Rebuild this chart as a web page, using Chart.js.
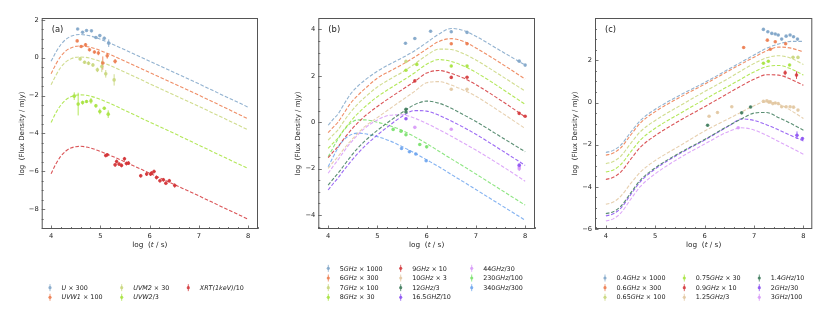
<!DOCTYPE html>
<html>
<head>
<meta charset="utf-8">
<script src="https://cdn.jsdelivr.net/npm/chart.js@4.4.0/dist/chart.umd.min.js"></script>
<style>
html, body { margin: 0; padding: 0; background: #fff; }
#wrap { position: relative; width: 831px; height: 322px; }
.panel { position: absolute; top: 0; width: 277px; height: 322px; }
</style>
</head>
<body>
<div id="wrap">
  <div class="panel" style="left:0px"><canvas id="pa"></canvas></div>
  <div class="panel" style="left:277px"><canvas id="pb"></canvas></div>
  <div class="panel" style="left:554px"><canvas id="pc"></canvas></div>
</div>
<script>
// ---- tick labels
const ticksX = [4, 5, 6, 7, 8];
const ticksYa = [-8, -6, -4, -2, 0, 2];
const ticksYb = [-4, -2, 0, 2, 4];
const ticksYc = [-6, -4, -2, 0, 2];

// ---- panel (a): UV / X-ray
const gridA = [4, 4.1, 4.2, 4.3, 4.4, 4.5, 4.6, 4.7, 4.8, 5, 5.5, 6, 6.5, 7, 7.5, 8];
const labelsA = ['{U} × 300', '{UVW1} × 100', '{UVM2} × 30', '{UVW2}/3', '{XRT(1keV)}/10'];
const modelU    = [-0.19, 0.3, 0.7, 0.97, 1.13, 1.21, 1.23, 1.2, 1.15, 0.98, 0.42, -0.18, -0.78, -1.38, -2.0, -2.61];
const modelUVW1 = [-0.85, -0.33, 0.08, 0.36, 0.52, 0.6, 0.62, 0.6, 0.55, 0.38, -0.18, -0.78, -1.38, -1.98, -2.6, -3.23];
const modelUVM2 = [-1.43, -0.92, -0.5, -0.22, -0.06, 0.02, 0.04, 0.02, -0.03, -0.2, -0.77, -1.37, -1.97, -2.57, -3.19, -3.81];
const modelUVW2 = [-3.42, -2.9, -2.5, -2.22, -2.06, -1.98, -1.96, -1.98, -2.03, -2.2, -2.78, -3.4, -4.0, -4.62, -5.24, -5.85];
const modelXRT  = [-6.13, -5.6, -5.2, -4.93, -4.77, -4.7, -4.68, -4.71, -4.77, -4.95, -5.5, -6.1, -6.7, -7.3, -7.92, -8.53];

const uT = [4.54, 4.64, 4.72, 4.82, 4.91, 4.99, 5.08, 5.17];
const uF = [1.52, 1.35, 1.44, 1.42, 1.07, 1.17, 1.03, 0.77];
const uE = [0.05, 0.05, 0.05, 0.05, 0.06, 0.06, 0.08, 0.2];
const uvw1T = [4.53, 4.61, 4.70, 4.78, 4.88, 4.96, 5.05, 5.14, 5.30];
const uvw1F = [0.89, 0.59, 0.68, 0.42, 0.30, 0.25, -0.28, 0.10, -0.19];
const uvw1E = [0.06, 0.06, 0.1, 0.08, 0.08, 0.12, 0.35, 0.15, 0.12];
const uvm2T = [4.59, 4.68, 4.76, 4.85, 4.94, 5.03, 5.11, 5.28];
const uvm2F = [-0.06, -0.24, -0.29, -0.38, -0.64, -0.46, -0.85, -1.17];
const uvm2E = [0.08, 0.08, 0.1, 0.1, 0.12, 0.3, 0.2, 0.3];
const uvw2T = [4.47, 4.55, 4.64, 4.72, 4.81, 4.91, 4.99, 5.08, 5.16];
const uvw2F = [-2.03, -2.45, -2.37, -2.31, -2.28, -2.54, -2.84, -2.67, -2.98];
const uvw2E = [0.2, 0.6, 0.1, 0.08, 0.15, 0.1, 0.15, 0.08, 0.2];
const xrtT = [5.11, 5.14, 5.30, 5.33, 5.38, 5.43, 5.49, 5.53, 5.57, 5.82, 5.94, 6.02, 6.04, 6.09, 6.14, 6.21, 6.28, 6.33, 6.40, 6.51];
const xrtF = [-5.17, -5.13, -5.66, -5.48, -5.62, -5.69, -5.34, -5.59, -5.57, -6.24, -6.15, -6.15, -6.10, -6.01, -6.33, -6.50, -6.45, -6.63, -6.50, -6.75];
const xrtE = [0.08, 0.08, 0.1, 0.1, 0.1, 0.1, 0.1, 0.1, 0.1, 0.1, 0.1, 0.1, 0.1, 0.1, 0.1, 0.1, 0.1, 0.1, 0.1, 0.12];

// ---- panel (b): GHz / mm bands
const gridB = [4, 4.1, 4.2, 4.3, 4.45, 4.6, 4.75, 5, 5.25, 5.5, 5.75, 6, 6.25, 6.5, 6.75, 7, 7.5, 8];
const labelsB = ['5{GHz} × 1000', '6{GHz} × 300', '7{GHz} × 100', '8{GHz} × 30', '9{GHz} × 10', '10{GHz} × 3',
                 '12{GHz}/3', '16.5{GHZ}/10', '44{GHz}/30', '230{GHz}/100', '340{GHz}/300'];
const model5   = [-0.13, 0.12, 0.35, 0.7, 1.2, 1.55, 1.82, 2.2, 2.5, 2.77, 3.07, 3.43, 3.8, 4.04, 3.95, 3.7, 3.08, 2.46];
const model6   = [-0.45, -0.22, 0.0, 0.32, 0.8, 1.15, 1.45, 1.9, 2.2, 2.48, 2.8, 3.15, 3.48, 3.6, 3.48, 3.2, 2.55, 1.86];
const model7   = [-0.77, -0.55, -0.33, -0.02, 0.42, 0.78, 1.08, 1.52, 1.85, 2.15, 2.5, 2.88, 3.15, 3.13, 2.95, 2.68, 2.02, 1.34];
const model8   = [-1.13, -0.9, -0.68, -0.38, 0.02, 0.37, 0.67, 1.1, 1.45, 1.78, 2.12, 2.5, 2.7, 2.62, 2.42, 2.15, 1.48, 0.77];
const model9   = [-1.53, -1.28, -1.05, -0.77, -0.37, -0.03, 0.27, 0.68, 1.05, 1.4, 1.75, 2.12, 2.23, 2.1, 1.9, 1.62, 0.95, 0.23];
const model10  = [-1.99, -1.72, -1.48, -1.2, -0.82, -0.48, -0.18, 0.2, 0.58, 0.95, 1.32, 1.7, 1.75, 1.6, 1.38, 1.12, 0.44, -0.27];
const model12  = [-2.71, -2.45, -2.2, -1.92, -1.5, -1.12, -0.8, -0.35, 0.05, 0.42, 0.75, 0.91, 0.82, 0.6, 0.32, 0.03, -0.62, -1.27];
const model165 = [-2.92, -2.65, -2.4, -2.12, -1.72, -1.35, -1.02, -0.55, -0.13, 0.25, 0.5, 0.48, 0.3, 0.05, -0.22, -0.52, -1.18, -1.86];
const model44  = [-2.2, -1.9, -1.62, -1.32, -0.9, -0.55, -0.25, 0.1, 0.3, 0.32, 0.18, -0.05, -0.32, -0.6, -0.9, -1.2, -1.85, -2.54];
const model230 = [-1.49, -1.1, -0.72, -0.4, -0.05, 0.1, 0.1, 0.0, -0.15, -0.35, -0.62, -0.92, -1.25, -1.58, -1.9, -2.23, -2.9, -3.57];
const model340 = [-1.92, -1.5, -1.1, -0.8, -0.55, -0.47, -0.5, -0.62, -0.8, -1.05, -1.32, -1.62, -1.92, -2.25, -2.57, -2.9, -3.56, -4.22];

const g5T = [5.57, 5.76, 6.08, 6.50, 6.82, 7.88, 8.0],  g5F = [3.40, 3.61, 3.92, 3.90, 3.87, 2.63, 2.46];
const g6T = [6.50, 6.82],                               g6F = [3.38, 3.38];
const g7T = [5.58],                                     g7F = [2.62];
const g8T = [5.58, 5.80, 6.50, 6.82],                   g8F = [2.24, 2.49, 2.42, 2.42];
const g9T = [5.76, 6.50, 6.82, 7.88, 8.0],              g9F = [1.78, 1.93, 1.94, 0.38, 0.26];
const g10T = [6.50, 6.82],                              g10F = [1.42, 1.42];
const g12T = [5.58, 5.58],                              g12F = [0.56, 0.44];
const g165T = [5.58, 7.88],                             g165F = [0.15, -1.85];
const g44T = [5.76, 6.50, 7.88, 7.88],                  g44F = [-0.22, -0.30, -1.93, -2.0];
const g44E = [0.05, 0.05, 0.12, 0.1];
const g230T = [5.32, 5.48, 5.58, 5.86, 6.0],            g230F = [-0.31, -0.39, -0.54, -0.96, -1.06];
const g340T = [5.49, 5.65, 5.78, 5.99],                 g340F = [-1.13, -1.27, -1.37, -1.66];

// ---- panel (c): sub-GHz / GHz bands
const gridC = [4, 4.15, 4.3, 4.5, 4.7, 5, 5.5, 6, 6.5, 6.75, 7, 7.25, 7.5, 7.75, 8];
const labelsC = ['0.4{GHz} × 1000', '0.6{GHz} × 300', '0.65{GHz} × 100', '0.75{GHz} × 30', '0.9{GHz} × 10',
                 '1.25{GHz}/3', '1.4{GHz}/10', '2{GHz}/30', '3{GHz}/100'];
const model04  = [-2.37, -2.27, -2.02, -1.42, -0.85, -0.32, 0.35, 0.95, 1.6, 1.93, 2.25, 2.57, 2.78, 2.9, 2.9];
const model06  = [-2.5, -2.4, -2.15, -1.55, -0.97, -0.43, 0.25, 0.87, 1.52, 1.84, 2.15, 2.45, 2.63, 2.58, 2.4];
const model065 = [-2.9, -2.8, -2.55, -1.95, -1.38, -0.85, -0.15, 0.52, 1.17, 1.52, 1.85, 2.12, 2.22, 2.1, 1.8];
const model075 = [-3.3, -3.2, -2.95, -2.35, -1.78, -1.22, -0.52, 0.15, 0.8, 1.13, 1.45, 1.7, 1.76, 1.6, 1.3];
const model09  = [-3.65, -3.55, -3.3, -2.7, -2.12, -1.57, -0.85, -0.2, 0.47, 0.8, 1.1, 1.32, 1.3, 1.1, 0.82];
const model125 = [-4.83, -4.72, -4.45, -3.85, -3.3, -2.75, -2.05, -1.35, -0.75, -0.45, -0.15, 0.03, -0.08, -0.38, -0.76];
const model14  = [-5.27, -5.18, -4.93, -4.3, -3.68, -3.1, -2.38, -1.75, -1.08, -0.77, -0.5, -0.47, -0.72, -1.0, -1.31];
const model2   = [-5.38, -5.28, -5.02, -4.38, -3.75, -3.15, -2.42, -1.78, -1.1, -0.78, -0.85, -1.05, -1.3, -1.57, -1.82];
const model3   = [-5.62, -5.52, -5.25, -4.6, -3.98, -3.38, -2.62, -1.97, -1.36, -1.2, -1.3, -1.55, -1.85, -2.15, -2.45];

const m04T = [7.19, 7.28, 7.36, 7.43, 7.49, 7.56, 7.65, 7.73, 7.80, 7.88];
const m04F = [3.47, 3.36, 3.28, 3.25, 3.20, 3.01, 3.15, 3.20, 3.12, 3.01];
const m06T = [6.79, 7.27, 7.33, 7.43, 7.64],  m06F = [2.61, 2.96, 2.53, 2.88, 2.79];
const m065T = [7.79, 7.89],                   m065F = [2.15, 2.14];
const m075T = [7.19, 7.29, 7.72],             m075F = [1.86, 1.96, 1.78];
const m09T = [7.63, 7.86],                    m09F = [1.41, 1.30], m09E = [0.12, 0.18];
const m125T = [6.09, 6.26, 6.55, 7.19, 7.26, 7.30, 7.33, 7.38, 7.43, 7.49, 7.56, 7.65, 7.73, 7.80, 7.89];
const m125F = [-0.65, -0.47, -0.2, 0.06, 0.08, 0.02, 0.03, -0.05, -0.02, -0.05, -0.2, -0.2, -0.2, -0.22, -0.36];
const m14T = [6.06, 6.75, 6.93],              m14F = [-1.08, -0.49, -0.21];
const m2T = [7.87, 7.98],                     m2F = [-1.55, -1.71], m2E = [0.18, 0.06];
const m3T = [6.68],                           m3F = [-1.2];

// colours
const C = {
  blue: '#7fa5c8', orange: '#ec7a4c', olive: '#c8d67a', lime: '#a6e33c', red: '#d3363a',
  tan: '#e2c7a0', dgreen: '#3d7a5b', purple: '#8a4ff2', violet: '#d799f8', green: '#78e06a', lblue: '#6da5ee'
};
const FONT = '"DejaVu Sans", sans-serif';
const INK = '#222';

function rgba(hex, a) {
  const n = parseInt(hex.slice(1), 16);
  return `rgba(${n >> 16},${(n >> 8) & 255},${n & 255},${a})`;
}
function minus(v) { return v < 0 ? '\u2212' + Math.abs(v) : String(v); }

// draws text where {...} parts are italic; returns width
function richText(ctx, str, x, y, size, measureOnly) {
  const parts = str.split(/(\{[^}]*\})/).filter(s => s);
  let cx = x;
  parts.forEach(p => {
    const it = p[0] === '{';
    const t = it ? p.slice(1, -1) : p;
    ctx.font = (it ? 'italic ' : '') + size + 'px ' + FONT;
    if (!measureOnly) ctx.fillText(t, cx, y);
    cx += ctx.measureText(t).width;
  });
  return cx - x;
}

const panelPlugin = {
  id: 'panel',
  beforeDatasetsDraw(chart) {
    const ctx = chart.ctx, xs = chart.scales.x, ys = chart.scales.y, a = chart.chartArea;
    ctx.save();
    ctx.beginPath();
    ctx.rect(a.left, a.top, a.right - a.left, a.bottom - a.top);
    ctx.clip();
    chart.data.datasets.forEach(ds => {
      if (!ds.errs) return;
      ctx.strokeStyle = ds.backgroundColor;
      ctx.lineWidth = 1;
      ds.data.forEach((p, i) => {
        const e = ds.errs[i];
        const px = xs.getPixelForValue(p.x);
        ctx.beginPath();
        ctx.moveTo(px, ys.getPixelForValue(p.y - e));
        ctx.lineTo(px, ys.getPixelForValue(p.y + e));
        ctx.stroke();
        if (ds.xerrs) {
          const py = ys.getPixelForValue(p.y);
          ctx.beginPath();
          ctx.moveTo(xs.getPixelForValue(p.x - ds.xerrs[i]), py);
          ctx.lineTo(xs.getPixelForValue(p.x + ds.xerrs[i]), py);
          ctx.stroke();
        }
      });
    });
    ctx.restore();
  },
  afterDraw(chart, args, opts) {
    const ctx = chart.ctx, xs = chart.scales.x, ys = chart.scales.y, a = chart.chartArea;
    ctx.save();
    // frame
    ctx.strokeStyle = '#555';
    ctx.lineWidth = 1;
    ctx.strokeRect(a.left + 0.5, a.top + 0.5, a.right - a.left - 1, a.bottom - a.top - 1);
    // inward ticks (major + minor)
    ctx.lineWidth = 0.8;
    const tick = (px, py, dx, dy) => { ctx.beginPath(); ctx.moveTo(px, py); ctx.lineTo(px + dx, py + dy); ctx.stroke(); };
    for (let v = Math.ceil(xs.min * 5) / 5; v <= xs.max + 1e-9; v = Math.round((v + 0.2) * 10) / 10) {
      const major = Math.abs(v - Math.round(v)) < 1e-6;
      tick(Math.round(xs.getPixelForValue(v)) + 0.5, a.bottom, 0, major ? -3.5 : -2);
    }
    for (let v = Math.ceil(ys.min * 2) / 2; v <= ys.max + 1e-9; v += 0.5) {
      const major = Math.abs(v / 2 - Math.round(v / 2)) < 1e-6;
      tick(a.left, Math.round(ys.getPixelForValue(v)) + 0.5, major ? 3.5 : 2, 0);
    }
    // panel tag
    ctx.fillStyle = INK;
    ctx.textBaseline = 'middle';
    ctx.textAlign = 'left';
    ctx.font = '8.4px ' + FONT;
    ctx.fillText(opts.tag, a.left + 10, a.top + 11.5);
    // y title (sits a little below the axis centre in the original)
    ctx.save();
    ctx.translate(a.left - 19.7, 133.5);
    ctx.rotate(-Math.PI / 2);
    ctx.textAlign = 'center';
    ctx.font = '7px ' + FONT;
    ctx.fillText('log  (Flux Density / mJy)', 0, 0);
    ctx.restore();
    // x title
    const xt = 'log  ({t} / s)';
    const w = richText(ctx, xt, 0, 0, 7.3, true);
    richText(ctx, xt, (a.left + a.right) / 2 - w / 2, 244.7, 7.3);
    // legend (column-major, 3 columns, bottom row fixed)
    const items = opts.items;
    const nrows = Math.ceil(items.length / 3);
    items.forEach((it, i) => {
      const col = Math.floor(i / nrows), row = i % nrows;
      const mx = opts.cols[col];
      const my = 297.3 - (nrows - 1 - row) * 9.65;
      ctx.strokeStyle = rgba(it.color, 0.85);
      ctx.fillStyle = rgba(it.color, 0.85);
      ctx.lineWidth = 0.9;
      ctx.beginPath(); ctx.moveTo(mx, my - 3.5); ctx.lineTo(mx, my + 3.5); ctx.stroke();
      ctx.beginPath(); ctx.arc(mx, my, 1.6, 0, Math.PI * 2); ctx.fill();
      ctx.fillStyle = INK;
      richText(ctx, it.text, mx + 11.5, my + 0.5, 6.4);
    });
    ctx.restore();
  }
};

function makePanel(id, p) {
  const datasets = [];
  p.series.forEach(s => {
    datasets.push({
      data: p.grid.map((x, i) => ({ x: x, y: s.model[i] })),
      showLine: true, borderColor: rgba(s.color, 0.85), borderWidth: 1.1, borderDash: [3.6, 1.8],
      pointRadius: 0, cubicInterpolationMode: 'monotone', order: 2
    });
    datasets.push({
      data: s.t.map((x, i) => ({ x: x, y: s.f[i] })),
      errs: s.e || s.t.map(() => 0.05), xerrs: s.xe,
      showLine: false, pointRadius: 1.8, backgroundColor: rgba(s.color, 0.85), borderWidth: 0, order: 1
    });
  });
  const tickFont = { family: FONT, size: 6.7 };
  return new Chart(document.getElementById(id), {
    type: 'scatter',
    data: { datasets: datasets },
    options: {
      responsive: true, maintainAspectRatio: false, animation: false,
      layout: { padding: { left: 0, right: p.padRight, top: 18, bottom: 75 } },
      plugins: {
        legend: { display: false }, tooltip: { enabled: false },
        panel: { tag: p.tag, cols: p.cols, items: p.series.map((s, i) => ({ text: p.labels[i], color: s.color })) }
      },
      scales: {
        x: {
          type: 'linear', min: p.xmin, max: p.xmax,
          grid: { display: false, drawTicks: false }, border: { display: false },
          afterBuildTicks: sc => { sc.ticks = ticksX.map(v => ({ value: v })); },
          afterFit: sc => { sc.height = 18; },
          ticks: { padding: 3, color: INK, font: tickFont, autoSkip: false, maxRotation: 0, callback: v => minus(v) }
        },
        y: {
          type: 'linear', min: p.ymin, max: p.ymax,
          grid: { display: false, drawTicks: false }, border: { display: false },
          afterBuildTicks: sc => { sc.ticks = p.yticks.map(v => ({ value: v })); },
          afterFit: sc => { sc.width = p.yw; },
          ticks: { padding: 3, color: INK, font: tickFont, autoSkip: false, callback: v => minus(v) }
        }
      }
    },
    plugins: [panelPlugin]
  });
}

makePanel('pa', {
  tag: '(a)', grid: gridA, labels: labelsA, yticks: ticksYa,
  xmin: 3.81, xmax: 8.2, ymin: -9.05, ymax: 2.1, yw: 41.7, padRight: 19,
  cols: [50, 121.7, 188.3],
  series: [
    { model: modelU,    color: C.blue,   t: uT,    f: uF,    e: uE },
    { model: modelUVW1, color: C.orange, t: uvw1T, f: uvw1F, e: uvw1E },
    { model: modelUVM2, color: C.olive,  t: uvm2T, f: uvm2F, e: uvm2E },
    { model: modelUVW2, color: C.lime,   t: uvw2T, f: uvw2F, e: uvw2E },
    { model: modelXRT,  color: C.red,    t: xrtT,  f: xrtF,  e: xrtE, xe: xrtT.map(() => 0.03) }
  ]
});

makePanel('pb', {
  tag: '(b)', grid: gridB, labels: labelsB, yticks: ticksYb,
  xmin: 3.8, xmax: 8.2, ymin: -4.6, ymax: 4.49, yw: 41.3, padRight: 19,
  cols: [51.3, 123.7, 194.7],
  series: [
    { model: model5,   color: C.blue,   t: g5T,   f: g5F },
    { model: model6,   color: C.orange, t: g6T,   f: g6F },
    { model: model7,   color: C.olive,  t: g7T,   f: g7F },
    { model: model8,   color: C.lime,   t: g8T,   f: g8F },
    { model: model9,   color: C.red,    t: g9T,   f: g9F },
    { model: model10,  color: C.tan,    t: g10T,  f: g10F },
    { model: model12,  color: C.dgreen, t: g12T,  f: g12F },
    { model: model165, color: C.purple, t: g165T, f: g165F },
    { model: model44,  color: C.violet, t: g44T,  f: g44F, e: g44E },
    { model: model230, color: C.green,  t: g230T, f: g230F },
    { model: model340, color: C.lblue,  t: g340T, f: g340F }
  ]
});

makePanel('pc', {
  tag: '(c)', grid: gridC, labels: labelsC, yticks: ticksYc,
  xmin: 3.78, xmax: 8.18, ymin: -6.0, ymax: 4.01, yw: 41, padRight: 18.7,
  cols: [51, 130.3, 205.3],
  series: [
    { model: model04,  color: C.blue,   t: m04T,  f: m04F, xe: m04T.map(() => 0.02) },
    { model: model06,  color: C.orange, t: m06T,  f: m06F },
    { model: model065, color: C.olive,  t: m065T, f: m065F },
    { model: model075, color: C.lime,   t: m075T, f: m075F },
    { model: model09,  color: C.red,    t: m09T,  f: m09F, e: m09E },
    { model: model125, color: C.tan,    t: m125T, f: m125F },
    { model: model14,  color: C.dgreen, t: m14T,  f: m14F },
    { model: model2,   color: C.purple, t: m2T,   f: m2F, e: m2E },
    { model: model3,   color: C.violet, t: m3T,   f: m3F }
  ]
});
</script>
</body>
</html>
